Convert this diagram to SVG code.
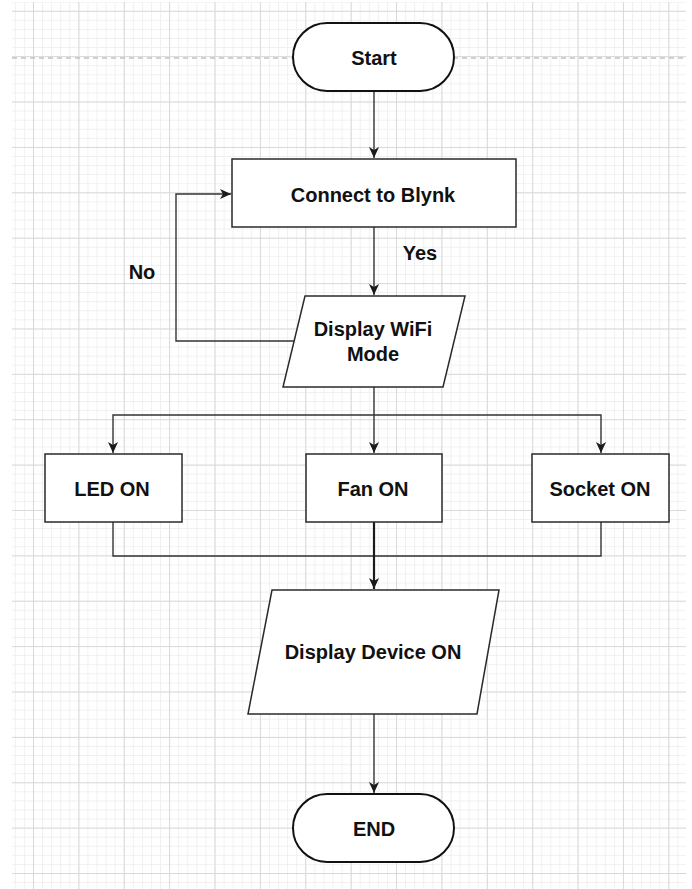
<svg xmlns="http://www.w3.org/2000/svg" width="692" height="889" viewBox="0 0 692 889">
  <defs>
    <pattern id="gridMinor" width="9.076" height="9.076" x="33" y="10.8" patternUnits="userSpaceOnUse">
      <path d="M0.5 0 V9.076 M0 0.5 H9.076" fill="none" stroke="#f0f0f0" stroke-width="1"/>
    </pattern>
    <pattern id="gridMajor" width="45.38" height="45.38" x="33" y="10.8" patternUnits="userSpaceOnUse">
      <path d="M0.5 0 V45.38 M0 0.5 H45.38" fill="none" stroke="#d9d9d9" stroke-width="1"/>
    </pattern>
    <marker id="arrow" markerWidth="12" markerHeight="11" refX="11" refY="5" orient="auto" markerUnits="userSpaceOnUse">
      <path d="M0,0 L11,5 L0,10 L3,5 Z" fill="#1a1a1a"/>
    </marker>
    <style>
      .node { fill: #ffffff; stroke: #2a2a2a; stroke-width: 1.5; }
      .term { fill: #ffffff; stroke: #111; stroke-width: 2; }
      .label { font-family: "Liberation Sans", Arial, sans-serif; font-weight: bold; font-size: 20px; fill: #111; text-anchor: middle; }
      .edge { fill: none; stroke: #333; stroke-width: 1.4; }
      .thick { stroke: #1a1a1a; stroke-width: 2.2; }
    </style>
  </defs>

  <rect x="0" y="0" width="692" height="889" fill="#ffffff"/>
  <g id="grid">
    <rect x="12" y="2" width="674" height="887" fill="url(#gridMinor)"/>
    <rect x="12" y="2" width="674" height="887" fill="url(#gridMajor)"/>
    <line x1="12" y1="58" x2="686" y2="58" stroke="#c2c2c2" stroke-width="1.5" stroke-dasharray="5 4"/>
  </g>

  <g id="connectors">
    <path class="edge" d="M374 91 V158" marker-end="url(#arrow)"/>
    <path class="edge" d="M374 227 V295" marker-end="url(#arrow)"/>
    <path class="edge" d="M294 341 H176 V194 H231" marker-end="url(#arrow)"/>
    <path class="edge" d="M374 387 V453" marker-end="url(#arrow)"/>
    <path class="edge" d="M374 415 H113 V453" marker-end="url(#arrow)"/>
    <path class="edge" d="M374 415 H601 V453" marker-end="url(#arrow)"/>
    <path class="edge" d="M113 522 V556 H601 V522"/>
    <path class="edge thick" d="M374 522 V589" marker-end="url(#arrow)"/>
    <path class="edge" d="M374 714 V793" marker-end="url(#arrow)"/>
    <text class="label" x="420" y="260">Yes</text>
    <text class="label" x="142" y="279">No</text>
  </g>

  <g id="start">
    <rect class="term" x="293" y="23" width="161" height="68" rx="34" ry="34"/>
    <text class="label" x="374" y="65">Start</text>
  </g>

  <g id="connect">
    <rect class="node" x="232" y="159" width="284" height="68"/>
    <text class="label" x="373" y="202">Connect to Blynk</text>
  </g>

  <g id="wifi">
    <polygon class="node" points="305,296 465,296 443,387 283,387"/>
    <text class="label" x="373" y="336">Display WiFi</text>
    <text class="label" x="373" y="361">Mode</text>
  </g>

  <g id="led">
    <rect class="node" x="45" y="454" width="137" height="68"/>
    <text class="label" x="112" y="496">LED ON</text>
  </g>

  <g id="fan">
    <rect class="node" x="306" y="454" width="136" height="68"/>
    <text class="label" x="373" y="496">Fan ON</text>
  </g>

  <g id="socket">
    <rect class="node" x="532" y="454" width="137" height="68"/>
    <text class="label" x="600" y="496">Socket ON</text>
  </g>

  <g id="device">
    <polygon class="node" points="272,590 499,590 477,714 248,714"/>
    <text class="label" x="373" y="659">Display Device ON</text>
  </g>

  <g id="end">
    <rect class="term" x="293" y="794" width="161" height="68" rx="34" ry="34"/>
    <text class="label" x="374" y="836">END</text>
  </g>
</svg>
